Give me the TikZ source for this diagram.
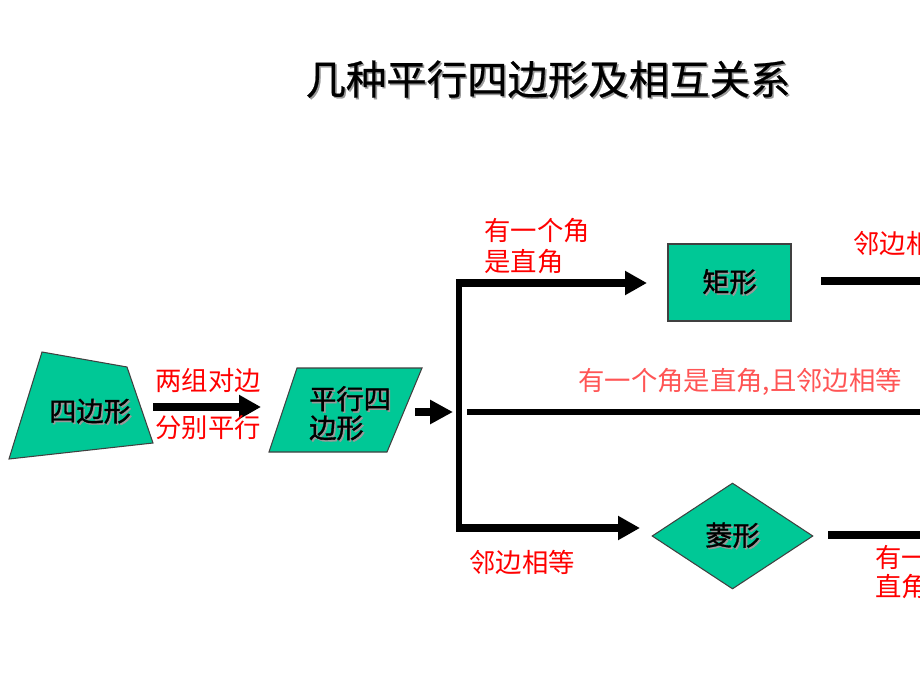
\documentclass[tikz,border=0pt]{standalone}
\usepackage{fontspec}
\newfontfamily\cjk{Noto Sans CJK SC}
\newfontfamily\cjkbold[FakeBold=1.2]{Noto Sans CJK SC}
\newfontfamily\cjktitle[FakeBold=0.6]{Noto Sans CJK SC}
\usetikzlibrary{shapes.geometric,arrows.meta}
\definecolor{shapegreen}{RGB}{0,200,150}
\definecolor{lblred}{RGB}{255,0,0}
\definecolor{lblpink}{RGB}{255,85,85}
\newcommand\shtxt[1]{\rlap{\kern0.9pt\raisebox{-0.9pt}{\textcolor{black!40}{#1}}}#1}

\tikzset{
  fig/.style={draw=black!75, fill=shapegreen, line width=0.6pt},
  figtext/.style={font=\cjkbold\fontsize{15.5}{16.5}\selectfont, align=left, inner sep=0pt},
  lbl/.style={font=\cjk\fontsize{15}{18}\selectfont, text=lblred, align=left, inner sep=0pt},
  bigarrow/.style={line width=4.2pt, -{Triangle[length=12.5pt,width=13pt]}},
  thickline/.style={line width=4.3pt},
}

\begin{document}
\begin{tikzpicture}[x=0.02cm,y=-0.02cm]
\useasboundingbox (0,0) rectangle (920,690);
\clip (0,0) rectangle (920,690);

% title
\node[font=\cjktitle\fontsize{23}{28}\selectfont] (title) at (548,80) {\shtxt{几种平行四边形及相互关系}};

% quadrilateral and parallelogram
\draw[fig] (42,352) -- (127,367) -- (153,443) -- (9,459) -- cycle;
\node[figtext] (quad) at (90,412) {\shtxt{四边形}};
\draw[fig] (297,368) -- (422,368) -- (387,452) -- (269,452) -- cycle;
\node[figtext] (para) at (350,414) {\shtxt{平行四}\\\shtxt{边形}};

% rectangle and rhombus
\node[fig, rectangle, minimum width=2.46cm, minimum height=1.54cm] (rect) at (729.5,282.5) {};
\node[figtext] at (rect) {\shtxt{矩形}};
\node[fig, diamond, inner sep=0pt, minimum width=3.22cm, minimum height=2.12cm] (rhomb) at (732.5,536) {};
\node[figtext] at (rhomb) {\shtxt{菱形}};

% arrow ends
\coordinate (q1) at (153,407);
\coordinate (p1) at (261,407);
\coordinate (p2) at (415,412);
\coordinate (hubin) at (453,412);
\coordinate (vtop) at (459,283);
\coordinate (vbot) at (459,528);
\coordinate (rectin) at (647,283);
\coordinate (rhombin) at (640,528);
\coordinate (midstart) at (467,412);
\coordinate (midend) at (935,412);
\coordinate (rectout) at (821,281);
\coordinate (rectend) at (935,281);
\coordinate (rhombout) at (828,535);
\coordinate (rhombend) at (935,535);

\draw[bigarrow] (q1) -- (p1);
\draw[bigarrow, line width=4pt, -{Triangle[length=13pt,width=13pt]}] (p2) -- (hubin);
\draw[line width=3.6pt] ([yshift=1.8pt]vtop) -- ([yshift=-1.8pt]vbot);
\draw[bigarrow] ([xshift=-1.8pt]vtop) -- (rectin);
\draw[bigarrow] ([xshift=-1.8pt]vbot) -- (rhombin);
\draw[thickline, line width=3.9pt] (midstart) -- (midend);
\draw[thickline] (rectout) -- (rectend);
\draw[thickline] (rhombout) -- (rhombend);

% labels
\node[lbl] (lblpair) at (208,381) {两组对边};
\node[lbl] (lblpar) at (208,428) {分别平行};
\node[lbl, anchor=west] (lblright) at (484,246) {有一个角\\是直角};
\node[lbl, anchor=west] (lbladj) at (853,243) {邻边相等};
\node[lbl, anchor=west, text=lblpink] (lblsquare) at (578,382) {有一个角是直角,且邻边相等};
\node[lbl, anchor=west] (lbladjb) at (469,562) {邻边相等};
\node[lbl, anchor=west, font=\cjk\fontsize{15}{16.5}\selectfont] (lblrightb) at (875,572) {有一个角是\\直角};
\end{tikzpicture}
\end{document}
